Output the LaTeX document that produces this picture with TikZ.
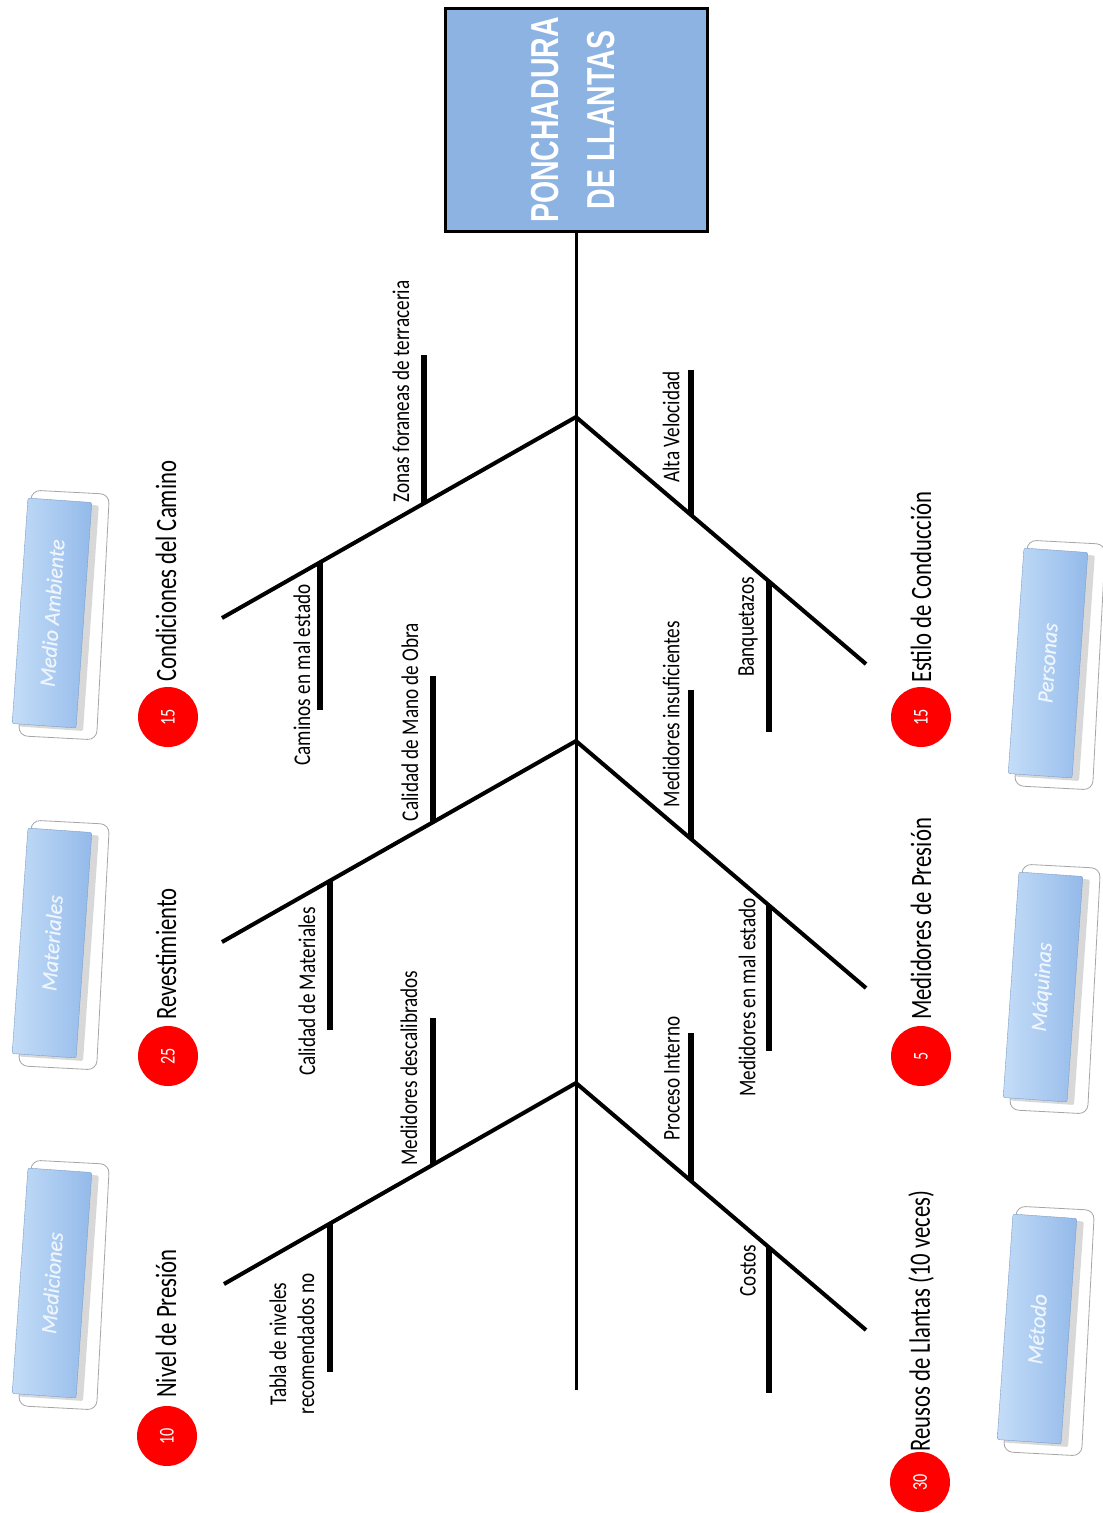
\documentclass[tikz,border=0pt]{standalone}
\usepackage{fontspec}
\setmainfont{Carlito}
\newfontfamily\labf[FakeStretch=0.77]{Carlito}
\newfontfamily\sublf[FakeStretch=0.8]{Carlito}
\newfontfamily\titf[FakeStretch=0.73]{Liberation Sans Bold}
\newfontfamily\catf[FakeBold=0.6]{Carlito}
\usetikzlibrary{shadows}

\definecolor{headblue}{HTML}{8DB3E2}
\definecolor{catlight}{HTML}{C4DDF8}
\definecolor{catmid}{HTML}{A6C8F2}
\definecolor{catdark}{HTML}{94BAEA}
\definecolor{numred}{HTML}{FF0000}
\definecolor{cattext}{HTML}{EEF5FD}

\tikzset{
  spine/.style={line width=3pt, draw=black},
  bone/.style={line width=4pt, draw=black},
  rib/.style={line width=5.5pt, draw=black},
  lshade/.style={draw=black, opacity=0.15, shift={(3,3)}},
  sublab/.style={rotate=90, inner sep=0pt, align=center, font=\sublf\fontsize{24}{28}\selectfont},
  mainlab/.style={rotate=90, inner sep=0pt, anchor=west, font=\labf\fontsize{29.5}{31}\selectfont},
  numdot/.style={circle, fill=numred, minimum size=60pt, inner sep=0pt, text=white, rotate=90, font=\labf\fontsize{21}{21}\selectfont},
  catbox/.style={rotate=86, minimum width=226pt, minimum height=64pt, inner sep=0pt,
    left color=catlight, middle color=catmid, right color=catdark, draw=catdark!85!black, line width=0.4pt,
    rounded corners=2pt, text=cattext, font=\catf\itshape\fontsize{22}{22}\selectfont,
    drop shadow={opacity=0.3, shadow xshift=7pt, shadow yshift=-3pt}},
  catframe/.style={rotate=87, minimum width=246pt, minimum height=78pt, inner sep=0pt,
    draw=black!35, line width=0.8pt, rounded corners=9pt, fill=white},
  headbox/.style={draw=black, line width=3pt, fill=headblue, minimum width=262pt,
    minimum height=223pt, inner sep=0pt},
}

\begin{document}
\begin{tikzpicture}[x=1pt, y=-1pt]
\fill[white] (0,0) rectangle (1103,1513);
\useasboundingbox (0,0) rectangle (1103,1513);

% head
\node[headbox] (head) at (576,120) {};
\node[rotate=90, text=white, align=center, inner sep=0pt,
      font=\titf\fontsize{39}{56}\selectfont] (headtxt) at (573,120) {PONCHADURA\\DE LLANTAS};

% spine coordinates
\coordinate (j1) at (576,417);
\coordinate (j2) at (576,741);
\coordinate (j3) at (576,1083);
\coordinate (tail) at (576,1390);
\coordinate (L1) at (222,618);
\coordinate (L2) at (222,942);
\coordinate (L3) at (224,1284);
\coordinate (R1) at (866,664);
\coordinate (R2) at (866,988);
\coordinate (R3) at (866,1330);

% rib coordinates
\coordinate (a11) at (424,503.3); \coordinate (t11) at (424,355);
\coordinate (a12) at (320,562.4); \coordinate (t12) at (320,710);
\coordinate (a21) at (433,822.2); \coordinate (t21) at (433,676);
\coordinate (a22) at (330,880.7); \coordinate (t22) at (330,1030);
\coordinate (a31) at (433,1164.2); \coordinate (t31) at (433,1018);
\coordinate (a32) at (330,1222.7); \coordinate (t32) at (330,1372);
\coordinate (b11) at (691,515); \coordinate (u11) at (691,370);
\coordinate (b12) at (769,581.4); \coordinate (u12) at (769,732);
\coordinate (b21) at (691,839); \coordinate (u21) at (691,690);
\coordinate (b22) at (769,905.4); \coordinate (u22) at (769,1051);
\coordinate (b31) at (691,1181); \coordinate (u31) at (691,1033);
\coordinate (b32) at (769,1247.4); \coordinate (u32) at (769,1393);

% shadows of lines
\begin{scope}[lshade]
  \foreach \j/\e in {j1/L1,j2/L2,j3/L3,j1/R1,j2/R2,j3/R3}
    \draw[line width=4pt] (\j) -- (\e);
  \foreach \a/\t in {a11/t11,a12/t12,a21/t21,a22/t22,a31/t31,a32/t32,b11/u11,b12/u12,b21/u21,b22/u22,b31/u31,b32/u32}
    \draw[line width=5.5pt] (\a) -- (\t);
\end{scope}

% spine and bones
\draw[spine] (head.south) -- (j1) -- (j2) -- (j3) -- (tail);
\draw[bone] (j1) -- (L1);
\draw[bone] (j2) -- (L2);
\draw[bone] (j3) -- (L3);
\draw[bone] (j1) -- (R1);
\draw[bone] (j2) -- (R2);
\draw[bone] (j3) -- (R3);

% ribs
\draw[rib] (a11) -- (t11);
\draw[rib] (a12) -- (t12);
\draw[rib] (a21) -- (t21);
\draw[rib] (a22) -- (t22);
\draw[rib] (a31) -- (t31);
\draw[rib] (a32) -- (t32);
\draw[rib] (b11) -- (u11);
\draw[rib] (b12) -- (u12);
\draw[rib] (b21) -- (u21);
\draw[rib] (b22) -- (u22);
\draw[rib] (b31) -- (u31);
\draw[rib] (b32) -- (u32);

% rib labels
\node[sublab] (s11) at (401,391.5) {Zonas foraneas de terraceria};
\node[sublab] (s12) at (302,675) {Caminos en mal estado};
\node[sublab] (s21) at (410,722) {Calidad de Mano de Obra};
\node[sublab] (s22) at (307,991.5) {Calidad de Materiales};
\node[sublab] (s31) at (409,1068) {Medidores descalibrados};
\node[sublab] (s32) at (292,1344) {Tabla de niveles\\recomendados no};
\node[sublab] (r11) at (671,427) {Alta Velocidad};
\node[sublab] (r12) at (748,627) {Banquetazos};
\node[sublab] (r21) at (671,714) {Medidores insuficientes};
\node[sublab] (r22) at (747,997.5) {Medidores en mal estado};
\node[sublab] (r31) at (672,1078.5) {Proceso Interno};
\node[sublab] (r32) at (748,1270.5) {Costos};

% main labels
\node[mainlab] (c1) at (166,682) {Condiciones del Camino};
\node[mainlab] (c2) at (166,1020) {Revestimiento};
\node[mainlab] (c3) at (166,1398) {Nivel de Presión};
\node[mainlab] (c4) at (921,683) {Estilo de Conducción};
\node[mainlab] (c5) at (921,1020) {Medidores de Presión};
\node[mainlab] (c6) at (921,1452) {Reusos de Llantas (10 veces)};

% number dots
\node[numdot] (n1) at (168,717) {15};
\node[numdot] (n2) at (168,1056) {25};
\node[numdot] (n3) at (167,1436) {10};
\node[numdot] (n4) at (921,717) {15};
\node[numdot] (n5) at (921,1056) {5};
\node[numdot] (n6) at (920,1482) {30};

% category boxes
\node[catframe] (f1) at (64,615) {};
\node[catbox] (k1) at (52,613) {Medio Ambiente};
\node[catframe] (f2) at (64,945) {};
\node[catbox] (k2) at (52,943) {Materiales};
\node[catframe] (f3) at (64,1285) {};
\node[catbox] (k3) at (52,1283) {Mediciones};
\node[catframe] (f4) at (1060,665) {};
\node[catbox] (k4) at (1048,663) {Personas};
\node[catframe] (f5) at (1055,989) {};
\node[catbox] (k5) at (1043,987) {Máquinas};
\node[catframe] (f6) at (1049,1331) {};
\node[catbox] (k6) at (1037,1329) {Método};
\end{tikzpicture}
\end{document}
